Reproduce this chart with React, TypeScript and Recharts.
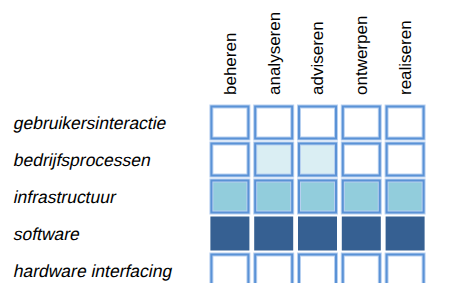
import { ScatterChart, Scatter, XAxis, YAxis } from 'recharts'

const COLUMNS = ['beheren', 'analyseren', 'adviseren', 'ontwerpen', 'realiseren']
const ROWS = ['gebruikersinteractie', 'bedrijfsprocessen', 'infrastructuur', 'software', 'hardware interfacing']

// level per column for each row: 0 = empty, 1 = light, 2 = medium, 3 = full
const GEBRUIKERSINTERACTIE = [0, 0, 0, 0, 0]
const BEDRIJFSPROCESSEN = [0, 1, 1, 0, 0]
const INFRASTRUCTUUR = [2, 2, 2, 2, 2]
const SOFTWARE = [3, 3, 3, 3, 3]
const HARDWARE_INTERFACING = [0, 0, 0, 0, 0]

const LEVELS = [GEBRUIKERSINTERACTIE, BEDRIJFSPROCESSEN, INFRASTRUCTUUR, SOFTWARE, HARDWARE_INTERFACING]
const FILLS = ['#FFFFFF', '#DAEEF3', '#92CDDC', '#366092']

const CELL_W = 39
const CELL_H = 34

const data = ROWS.flatMap((row, r) =>
    COLUMNS.map((col, c) => ({ col, row, level: LEVELS[r][c] }))
)

const CellShape = (props: any) => {
    const { cx, cy, payload } = props
    const x = cx - CELL_W / 2
    const y = cy - CELL_H / 2
    const fill = FILLS[payload.level]
    if (payload.level === 3) {
        return <rect x={x} y={y} width={CELL_W} height={CELL_H} fill={fill} />
    }
    return (
        <g>
            <rect x={x + 1} y={y + 1} width={CELL_W - 2} height={CELL_H - 2} fill={fill} stroke="#B7D0F0" strokeWidth={4} />
            <rect x={x + 1} y={y + 1} width={CELL_W - 2} height={CELL_H - 2} fill="none" stroke="#5A92D6" strokeWidth={2} />
        </g>
    )
}

const ColumnTick = ({ x, payload }: any) => (
    <text
        x={x}
        y={95}
        dy="0.35em"
        transform={`rotate(-90, ${x}, 95)`}
        textAnchor="start"
        style={{ fontFamily: 'Liberation Sans', fontSize: 17 }}
        fill="#000"
    >
        {payload.value}
    </text>
)

// no Liberation Sans Italic available, so slant the regular face
const RowTick = ({ y, payload }: any) => (
    <text
        x={0}
        y={0}
        dy="0.35em"
        transform={`translate(14, ${y}) skewX(-12)`}
        textAnchor="start"
        style={{ fontFamily: 'Liberation Sans', fontSize: 17.5 }}
        fill="#000"
    >
        {payload.value}
    </text>
)

export default function App() {
    return (
        <div style={{ position: 'absolute', left: 0, top: 0, width: 454, height: 283, overflow: 'hidden', background: '#fff' }}>
            <ScatterChart width={454} height={289} margin={{ top: 0, right: 27, bottom: 0, left: 0 }}>
                <XAxis
                    dataKey="col"
                    type="category"
                    orientation="top"
                    allowDuplicatedCategory={false}
                    height={104}
                    axisLine={false}
                    tickLine={false}
                    tick={<ColumnTick />}
                    interval={0}
                />
                <YAxis
                    dataKey="row"
                    type="category"
                    allowDuplicatedCategory={false}
                    width={208}
                    axisLine={false}
                    tickLine={false}
                    tick={<RowTick />}
                    interval={0}
                    reversed
                />
                <Scatter data={data} shape={<CellShape />} isAnimationActive={false} />
            </ScatterChart>
        </div>
    )
}
